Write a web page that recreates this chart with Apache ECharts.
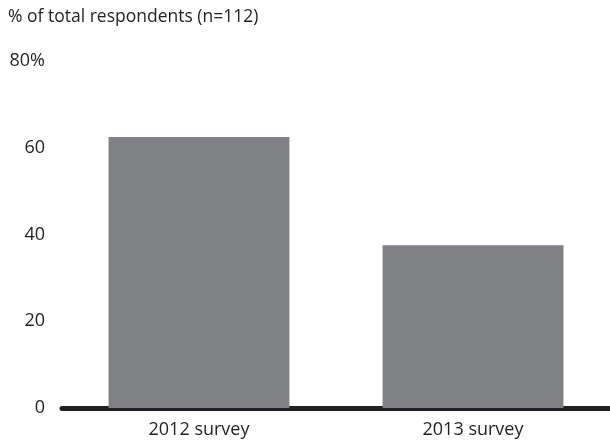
<!DOCTYPE html>
<html>
<head>
<meta charset="utf-8">
<script src="https://cdn.jsdelivr.net/npm/echarts@6/dist/echarts.min.js"></script>
<style>
  html, body { margin: 0; padding: 0; background: #fff; }
  #chart { width: 610px; height: 443px; }
</style>
</head>
<body>
<div id="chart"></div>
<script>
// survey results
const categories = ['2012 survey', '2013 survey']
const shares = [62.5, 37.5]
const yTicks = [0, 20, 40, 60, 80]

const textColor = '#231f20'
const fontFamily = '"Open Sans", Lato, sans-serif'

const chart = echarts.init(document.getElementById('chart'))

chart.setOption({
  animation: false,
  title: {
    text: '% of total respondents (n=112)',
    left: 3,
    top: 3,
    textStyle: {
      color: textColor,
      fontSize: 17.5,
      fontWeight: 'normal',
      fontFamily
    }
  },
  grid: {
    left: 62,
    right: 0,
    top: 61,
    bottom: 35,
    containLabel: false
  },
  xAxis: {
    type: 'category',
    data: categories,
    axisLine: {
      lineStyle: { color: textColor, width: 5 }
    },
    axisTick: { show: false },
    axisLabel: {
      color: textColor,
      fontSize: 18,
      fontFamily,
      margin: 13
    }
  },
  yAxis: {
    type: 'value',
    min: yTicks[0],
    max: yTicks[yTicks.length - 1],
    interval: 20,
    axisLine: { show: false },
    axisTick: { show: false },
    splitLine: { show: false },
    axisLabel: {
      color: textColor,
      fontSize: 18,
      fontFamily,
      margin: 17,
      formatter: v => (v === 80 ? v + '%' : String(v))
    }
  },
  series: [
    {
      type: 'bar',
      data: shares,
      barWidth: '66%',
      itemStyle: { color: '#808184' }
    }
  ]
})
</script>
</body>
</html>
